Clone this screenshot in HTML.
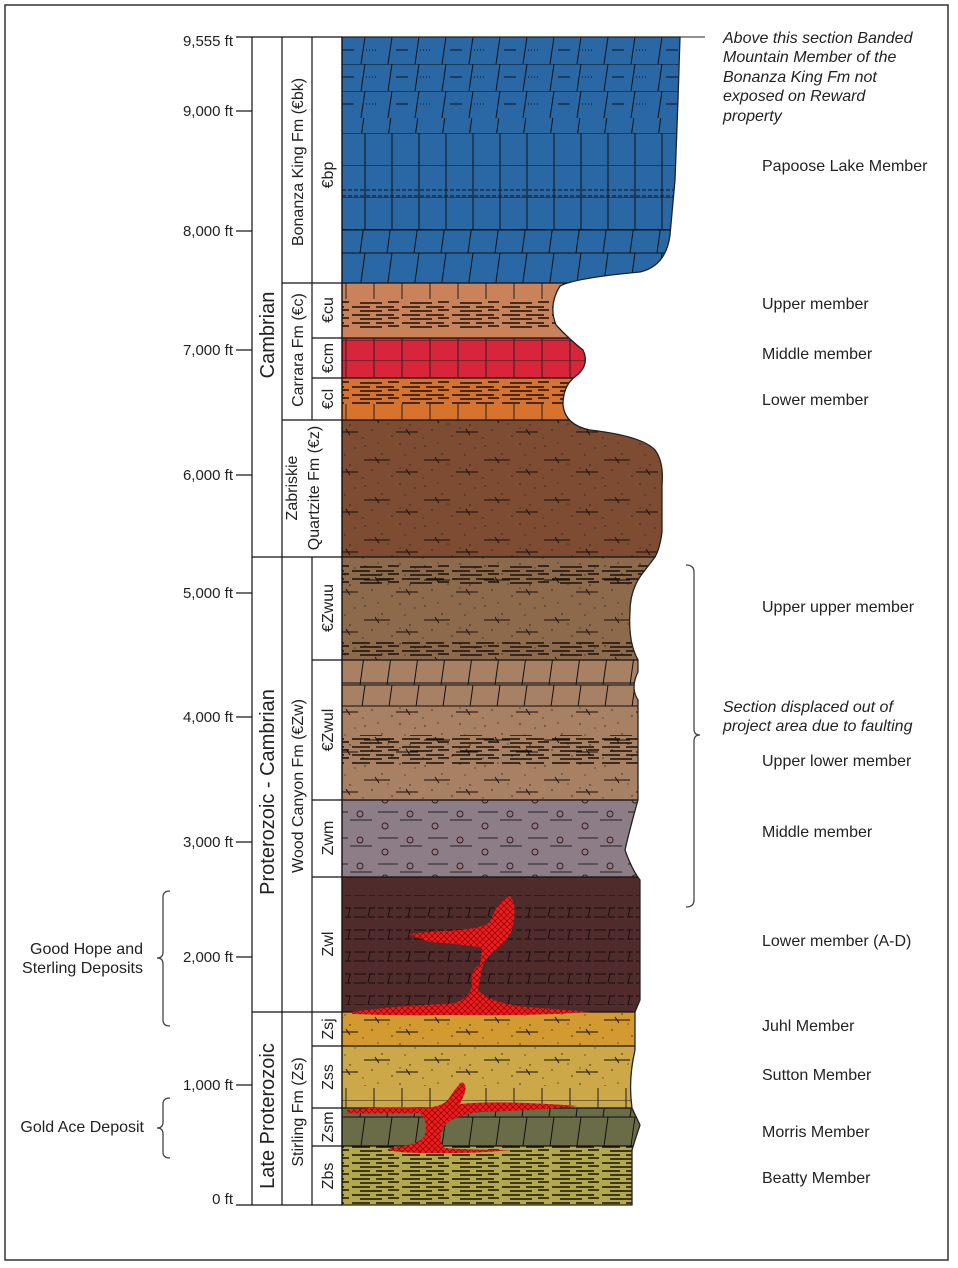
<!DOCTYPE html>
<html><head><meta charset="utf-8">
<style>
html,body{margin:0;padding:0;background:#fff;}
svg{display:block;font-family:"Liberation Sans",sans-serif;}
</style></head>
<body>
<svg width="958" height="1268" viewBox="0 0 958 1268" xmlns="http://www.w3.org/2000/svg">
<defs>
<clipPath id="col"><path d="M342,37 L680,37 L678,100 L675,180 L670,235 Q666,266 640,272 Q575,278 560,286 Q548,305 556,325 Q570,340 583,350 Q590,365 576,376 Q563,385 563,405 Q565,425 590,430 Q642,436 655,450 Q664,462 662,485 L662,532 Q660,548 655,557 L642,574 Q630,590 630,612 Q628,642 638,660 L638,672 Q630,688 638,700 L638,800 Q630,828 625,850 Q632,870 640,880 L640,1000 L635,1012 L635,1050 Q628,1080 632,1108 L640,1125 Q635,1140 632,1150 L632,1205 L342,1205 Z"/></clipPath>
<pattern id="brick" width="54" height="36" patternUnits="userSpaceOnUse" y="37">
<path d="M0,0H54M0,36H54M14,0L9,36M41,0L36,36" stroke="#111" stroke-width="1" fill="none"/></pattern>
<pattern id="brickv" width="54" height="32" patternUnits="userSpaceOnUse" y="133">
<path d="M0,0H54M14,0V32M41,0V32" stroke="#111" stroke-width="1" fill="none"/></pattern>
<pattern id="dolo" width="54" height="27" patternUnits="userSpaceOnUse" y="37">
<path d="M0,0H54M14,0L10,27M41,0L37,27M18,13H30" stroke="#111" stroke-width="1" fill="none"/><path d="M42,13H52" stroke="#111" stroke-dasharray="1 2"/></pattern>
<pattern id="lim" width="28" height="20" patternUnits="userSpaceOnUse">
<path d="M0,0H28M10,0V20" stroke="#222" stroke-width="1" fill="none"/></pattern>
<pattern id="shale" width="50" height="8" patternUnits="userSpaceOnUse">
<path d="M2,3H20M26,3H44M10,7H32M38,6H49" stroke="#1a1008" stroke-width="1.6" fill="none"/></pattern>
<pattern id="sand" width="60" height="40" patternUnits="userSpaceOnUse">
<circle cx="5" cy="6" r=".7" fill="#222"/><circle cx="22" cy="14" r=".7" fill="#222"/><circle cx="40" cy="4" r=".7" fill="#222"/><circle cx="50" cy="25" r=".7" fill="#222"/><circle cx="12" cy="30" r=".7" fill="#222"/><circle cx="32" cy="36" r=".7" fill="#222"/><circle cx="45" cy="15" r=".6" fill="#222"/><circle cx="28" cy="24" r=".6" fill="#222"/><circle cx="55" cy="8" r=".6" fill="#222"/><circle cx="18" cy="3" r=".6" fill="#222"/><circle cx="3" cy="38" r=".6" fill="#222"/><circle cx="40" cy="28" r=".6" fill="#222"/>
<path d="M4,20H30M15,17L19,23M36,32H58M46,29L50,35" stroke="#1a1008" stroke-width="1" fill="none"/></pattern>
<pattern id="zwl" width="60" height="22" patternUnits="userSpaceOnUse">
<path d="M0,6H60M0,15H60" stroke="#1a0c0c" stroke-width="1" stroke-dasharray="6 3" fill="none"/>
<path d="M10,6L8,15M30,6L28,15M50,6L48,15" stroke="#1a0c0c" stroke-width="1"/></pattern>
<pattern id="cgl" width="50" height="26" patternUnits="userSpaceOnUse">
<circle cx="10" cy="8" r="3" fill="none" stroke="#3a1a1a"/><circle cx="35" cy="20" r="3" fill="none" stroke="#3a1a1a"/>
<path d="M0,14H22M28,6H48" stroke="#222" stroke-width="1"/></pattern>
<pattern id="ore" width="6" height="6" patternUnits="userSpaceOnUse">
<rect width="6" height="6" fill="#ee1c1c"/><path d="M0,0L6,6M6,0L0,6" stroke="#8a0000" stroke-width=".7"/></pattern>
</defs>

<rect x="5" y="5" width="943" height="1255" fill="#fff" stroke="#333" stroke-width="1.5"/>

<g clip-path="url(#col)">
<rect x="342" y="37" width="350" height="246" fill="#2a68a5"/>
<rect x="342" y="37" width="350" height="81" fill="url(#dolo)"/>
<rect x="342" y="118" width="350" height="15" fill="url(#brick)"/>
<rect x="342" y="133" width="350" height="97" fill="url(#brickv)"/>
<rect x="342" y="230" width="350" height="53" fill="url(#brick)"/>
<line x1="342" y1="230" x2="692" y2="230" stroke="#111"/>
<line x1="342" y1="190" x2="692" y2="190" stroke="#111" stroke-dasharray="4 2"/>
<line x1="342" y1="196" x2="692" y2="196" stroke="#111" stroke-dasharray="4 2"/>
<rect x="342" y="283" width="350" height="55" fill="#c9825a"/>
<rect x="342" y="283" width="350" height="16" fill="url(#lim)"/>
<rect x="342" y="300" width="350" height="28" fill="url(#shale)"/>
<rect x="342" y="338" width="350" height="40" fill="#d8253a"/>
<rect x="342" y="338" width="350" height="40" fill="url(#lim)"/>
<rect x="342" y="378" width="350" height="42" fill="#d8732e"/>
<rect x="342" y="380" width="350" height="24" fill="url(#shale)"/>
<rect x="342" y="404" width="350" height="16" fill="url(#lim)"/>
<rect x="342" y="420" width="350" height="137" fill="#7d4c33"/>
<rect x="342" y="420" width="350" height="137" fill="url(#sand)"/>
<rect x="342" y="557" width="350" height="103" fill="#8e6a4d"/>
<rect x="342" y="557" width="350" height="103" fill="url(#sand)"/>
<rect x="342" y="565" width="350" height="20" fill="url(#shale)"/>
<rect x="342" y="640" width="350" height="18" fill="url(#shale)"/>
<rect x="342" y="660" width="350" height="140" fill="#a88064"/>
<rect x="342" y="660" width="350" height="46" fill="url(#brick)"/>
<rect x="342" y="706" width="350" height="94" fill="url(#sand)"/>
<rect x="342" y="735" width="350" height="30" fill="url(#shale)"/>
<line x1="342" y1="706" x2="692" y2="706" stroke="#111"/>
<line x1="342" y1="683" x2="692" y2="683" stroke="#111"/>
<rect x="342" y="800" width="350" height="77" fill="#8d7d86"/>
<rect x="342" y="800" width="350" height="77" fill="url(#cgl)"/>
<rect x="342" y="877" width="350" height="135" fill="#4f2b2c"/>
<rect x="342" y="895" width="350" height="110" fill="url(#zwl)"/>
<rect x="342" y="1012" width="350" height="34" fill="#d39a32"/>
<rect x="342" y="1012" width="350" height="34" fill="url(#sand)"/>
<rect x="342" y="1046" width="350" height="62" fill="#cca848"/>
<rect x="342" y="1046" width="350" height="40" fill="url(#sand)"/>
<rect x="342" y="1088" width="350" height="20" fill="url(#lim)"/>
<rect x="342" y="1108" width="350" height="38" fill="#6a6b47"/>
<rect x="342" y="1108" width="350" height="38" fill="url(#brick)"/>
<rect x="342" y="1146" width="350" height="59" fill="#b3a84a"/>
<rect x="342" y="1146" width="350" height="59" fill="url(#shale)"/>
<g stroke="#111" stroke-width="1.3">
<line x1="342" y1="283" x2="692" y2="283"/><line x1="342" y1="338" x2="692" y2="338"/><line x1="342" y1="378" x2="692" y2="378"/><line x1="342" y1="420" x2="692" y2="420"/><line x1="342" y1="557" x2="692" y2="557"/><line x1="342" y1="660" x2="692" y2="660"/><line x1="342" y1="800" x2="692" y2="800"/><line x1="342" y1="877" x2="692" y2="877"/><line x1="342" y1="1012" x2="692" y2="1012"/><line x1="342" y1="1046" x2="692" y2="1046"/><line x1="342" y1="1108" x2="692" y2="1108"/><line x1="342" y1="1146" x2="692" y2="1146"/></g>
</g>
<path d="M342,37 L680,37 L678,100 L675,180 L670,235 Q666,266 640,272 Q575,278 560,286 Q548,305 556,325 Q570,340 583,350 Q590,365 576,376 Q563,385 563,405 Q565,425 590,430 Q642,436 655,450 Q664,462 662,485 L662,532 Q660,548 655,557 L642,574 Q630,590 630,612 Q628,642 638,660 L638,672 Q630,688 638,700 L638,800 Q630,828 625,850 Q632,870 640,880 L640,1000 L635,1012 L635,1050 Q628,1080 632,1108 L640,1125 Q635,1140 632,1150 L632,1205 L342,1205 Z" fill="none" stroke="#222" stroke-width="1.3"/>
<line x1="680" y1="37" x2="705" y2="37" stroke="#222"/>

<!-- ore bodies -->
<path d="M352,1012 Q400,1005 450,1004 Q470,1000 472,985 Q470,970 480,965 L482,948 Q470,945 430,942 L408,934 L440,931 Q480,930 490,922 Q498,900 510,896 Q518,905 512,930 Q505,945 495,950 Q484,960 482,968 L478,990 Q490,1005 540,1008 L590,1012 Q540,1016 450,1015 Q400,1016 352,1014 Z" fill="url(#ore)"/>
<path d="M347,1110 Q380,1106 420,1108 Q440,1108 448,1100 Q455,1088 462,1082 Q468,1085 464,1095 L460,1104 Q500,1100 578,1106 Q545,1110 480,1112 Q455,1115 445,1125 Q436,1138 445,1148 Q470,1150 512,1150 Q470,1154 420,1153 Q385,1152 390,1148 Q420,1145 425,1135 Q428,1120 420,1113 Q380,1114 347,1113 Z" fill="url(#ore)"/>

<!-- columns -->
<g stroke="#111" stroke-width="1.2" fill="none">
<line x1="236" y1="37" x2="342" y2="37"/>
<line x1="252" y1="37" x2="252" y2="1205"/>
<line x1="282" y1="37" x2="282" y2="1205"/>
<line x1="312" y1="37" x2="312" y2="420"/>
<line x1="312" y1="557" x2="312" y2="1205"/>
<line x1="342" y1="37" x2="342" y2="1205"/>
<line x1="236" y1="1205" x2="342" y2="1205"/>
<line x1="252" y1="557" x2="342" y2="557"/>
<line x1="252" y1="1012" x2="342" y2="1012"/>
<line x1="282" y1="283" x2="342" y2="283"/>
<line x1="282" y1="420" x2="342" y2="420"/>
<line x1="312" y1="338" x2="342" y2="338"/>
<line x1="312" y1="378" x2="342" y2="378"/>
<line x1="312" y1="660" x2="342" y2="660"/>
<line x1="312" y1="800" x2="342" y2="800"/>
<line x1="312" y1="877" x2="342" y2="877"/>
<line x1="312" y1="1046" x2="342" y2="1046"/>
<line x1="312" y1="1108" x2="342" y2="1108"/>
<line x1="312" y1="1146" x2="342" y2="1146"/>
<line x1="236" y1="111" x2="252" y2="111"/><line x1="236" y1="231" x2="252" y2="231"/><line x1="236" y1="350" x2="252" y2="350"/><line x1="236" y1="475" x2="252" y2="475"/><line x1="236" y1="593" x2="252" y2="593"/><line x1="236" y1="717" x2="252" y2="717"/><line x1="236" y1="842" x2="252" y2="842"/><line x1="236" y1="957" x2="252" y2="957"/><line x1="236" y1="1085" x2="252" y2="1085"/>
</g>

<g font-size="15" fill="#222" text-anchor="end">
<text x="233" y="46">9,555 ft</text><text x="233" y="116">9,000 ft</text><text x="233" y="236">8,000 ft</text><text x="233" y="355">7,000 ft</text><text x="233" y="480">6,000 ft</text><text x="233" y="598">5,000 ft</text><text x="233" y="722">4,000 ft</text><text x="233" y="847">3,000 ft</text><text x="233" y="962">2,000 ft</text><text x="233" y="1090">1,000 ft</text><text x="233" y="1204">0 ft</text>
</g>
<g font-size="16" fill="#222" text-anchor="end">
<text x="143" y="954">Good Hope and</text><text x="143" y="973">Sterling Deposits</text>
<text x="144" y="1132">Gold Ace Deposit</text>
</g>
<g font-size="20" fill="#222" text-anchor="middle">
<text transform="translate(274,335) rotate(-90)">Cambrian</text>
<text transform="translate(274,792) rotate(-90)">Proterozoic - Cambrian</text>
<text transform="translate(274,1116) rotate(-90)">Late Proterozoic</text>
</g>
<g font-size="16" fill="#222" text-anchor="middle">
<text transform="translate(303,162) rotate(-90)">Bonanza King Fm (€bk)</text>
<text transform="translate(303,350) rotate(-90)">Carrara Fm (€c)</text>
<text transform="translate(306,488) rotate(-90)"><tspan x="0" y="-9">Zabriskie</tspan><tspan x="0" y="13">Quartzite Fm (€z)</tspan></text>
<text transform="translate(303,786) rotate(-90)">Wood Canyon Fm (€Zw)</text>
<text transform="translate(303,1112) rotate(-90)">Stirling Fm (Zs)</text>
<text transform="translate(333,175) rotate(-90)">€bp</text>
<text transform="translate(333,310) rotate(-90)">€cu</text>
<text transform="translate(333,358) rotate(-90)">€cm</text>
<text transform="translate(333,399) rotate(-90)">€cl</text>
<text transform="translate(333,608) rotate(-90)">€Zwuu</text>
<text transform="translate(333,730) rotate(-90)">€Zwul</text>
<text transform="translate(333,838) rotate(-90)">Zwm</text>
<text transform="translate(333,944) rotate(-90)">Zwl</text>
<text transform="translate(333,1029) rotate(-90)">Zsj</text>
<text transform="translate(333,1077) rotate(-90)">Zss</text>
<text transform="translate(333,1127) rotate(-90)">Zsm</text>
<text transform="translate(333,1176) rotate(-90)">Zbs</text>
</g>
<g font-size="16" fill="#222">
<text x="762" y="171">Papoose Lake Member</text>
<text x="762" y="309">Upper member</text>
<text x="762" y="359">Middle member</text>
<text x="762" y="405">Lower member</text>
<text x="762" y="612">Upper upper member</text>
<text x="762" y="766">Upper lower member</text>
<text x="762" y="837">Middle member</text>
<text x="762" y="946">Lower member (A-D)</text>
<text x="762" y="1031">Juhl Member</text>
<text x="762" y="1080">Sutton Member</text>
<text x="762" y="1137">Morris Member</text>
<text x="762" y="1183">Beatty Member</text>
</g>
<g font-size="16" fill="#222" font-style="italic">
<text x="723" y="43">Above this section Banded</text>
<text x="723" y="62">Mountain Member of the</text>
<text x="723" y="82">Bonanza King Fm not</text>
<text x="723" y="101">exposed on Reward</text>
<text x="723" y="121">property</text>
<text x="723" y="712">Section displaced out of</text>
<text x="723" y="731">project area due to faulting</text>
</g>
<g stroke="#444" stroke-width="1.3" fill="none">
<path d="M686,565 Q694,565 694,572 L694,729 Q694,735 700,735 Q694,735 694,741 L694,900 Q694,907 686,907"/>
<path d="M170,891 Q163,891 163,897 L163,952 Q163,958 157,958 Q163,958 163,964 L163,1020 Q163,1026 170,1026"/>
<path d="M170,1098 Q163,1098 163,1104 L163,1122 Q163,1128 157,1128 Q163,1128 163,1134 L163,1152 Q163,1158 170,1158"/>
</g>
</svg>
</body></html>
